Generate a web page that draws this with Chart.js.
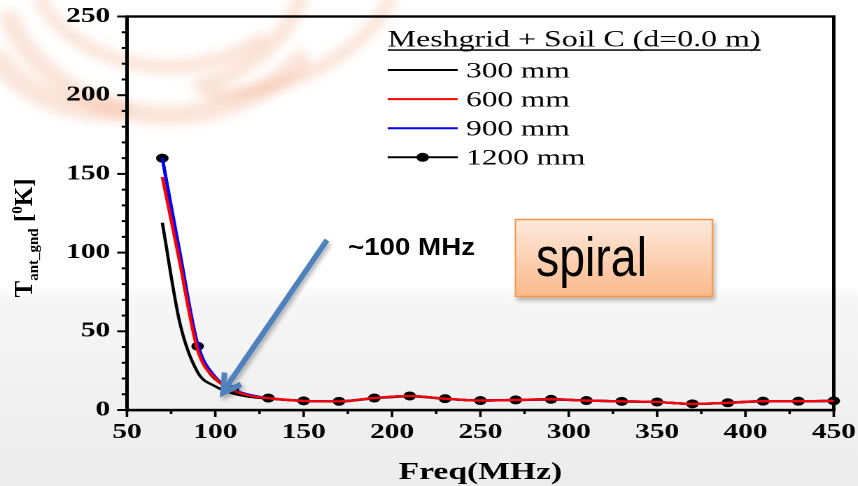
<!DOCTYPE html>
<html><head><meta charset="utf-8">
<script src="https://cdn.jsdelivr.net/npm/chart.js@4.4.0/dist/chart.umd.min.js"></script>
<style>
html,body{margin:0;padding:0;}
body{width:858px;height:486px;overflow:hidden;position:relative;
 background:linear-gradient(to bottom,#ffffff 0px,#ffffff 285px,#f6f6f6 300px,#ececec 486px);}
#bg{position:absolute;left:0;top:0;}
#wrap{position:absolute;left:0;top:0;width:613px;height:486px;transform:scaleX(1.39967);transform-origin:0 0;}
#ov{position:absolute;left:0;top:0;pointer-events:none;}
</style></head>
<body>
<svg id="bg" width="858" height="486">
 <defs><filter id="blur" x="-20%" y="-20%" width="140%" height="140%"><feGaussianBlur stdDeviation="5"/></filter></defs>
 <g filter="url(#blur)" fill="none" stroke="#f2a27a" stroke-opacity="0.28" stroke-linecap="round">
  <path d="M 10 20 A 170 150 0 0 0 300 60" stroke-width="20"/>
  <path d="M 40 0 A 140 110 0 0 0 260 40" stroke-width="14"/>
  <path d="M 200 85 A 150 130 0 0 0 300 0" stroke-width="16"/>
  <path d="M 210 95 A 200 150 0 0 0 390 0" stroke-width="14"/>
  <path d="M 0 60 A 120 90 0 0 0 120 110" stroke-width="22"/>
 </g>
</svg>
<div id="wrap"><canvas id="c"></canvas></div>
<svg id="ov" width="858" height="486">
 <defs>
  <linearGradient id="boxg" x1="0" y1="0" x2="0" y2="1">
   <stop offset="0" stop-color="#fde9dc"/>
   <stop offset="1" stop-color="#fbb98a"/>
  </linearGradient>
  <filter id="sh" x="-20%" y="-20%" width="140%" height="150%">
   <feDropShadow dx="2" dy="3" stdDeviation="2" flood-color="#000" flood-opacity="0.3"/>
  </filter>
 </defs>
 <g filter="url(#sh)" stroke="#4f81bd" stroke-width="5.5" fill="none" stroke-linecap="butt" stroke-linejoin="miter">
  <line x1="327" y1="240" x2="225" y2="389"/>
  <polyline points="241,384.3 223,393 224.5,372.5"/>
 </g>
 <text x="348" y="255" font-family="Liberation Sans, Arial, sans-serif" font-weight="bold" font-size="23" textLength="127" lengthAdjust="spacingAndGlyphs" fill="#000">~100 MHz</text>
 <rect x="515.5" y="219.5" width="197" height="77" fill="url(#boxg)" stroke="#f79646" stroke-width="1.5" filter="url(#sh)"/>
 <text x="536" y="276" font-family="Liberation Sans, Arial, sans-serif" font-size="56" textLength="111" lengthAdjust="spacingAndGlyphs" fill="#000">spiral</text>
 <text transform="translate(32,238) rotate(-90)" text-anchor="middle" font-family="Liberation Serif, serif" font-weight="bold" font-size="25" fill="#000">T<tspan font-size="15" dy="6">ant_gnd</tspan><tspan dy="-6"> [</tspan><tspan font-size="15" dy="-10">0</tspan><tspan dy="10">K]</tspan></text>
</svg>
<script>
// ---- data ----
const lineFreq = [70, 80, 90, 100, 110, 120, 130, 150, 170, 190, 210, 230, 250, 270, 290, 310, 330, 350, 370, 390, 410, 430, 450];
const t300 = [119, 55, 24, 15, 10.5, 8.3, 7.2, 5.8, 5.4, 7.4, 8.7, 7.1, 6, 6.3, 6.7, 6, 5.5, 5, 3.9, 4.5, 5.5, 5.5, 5.8];
const t600 = [148, 93, 38, 20, 12.5, 9, 7.5, 5.8, 5.5, 7.6, 8.9, 7.2, 6, 6.4, 6.8, 6, 5.5, 5.1, 3.9, 4.6, 5.6, 5.6, 5.8];
const t900 = [160, 100, 42, 21, 13, 9.5, 7.6, 5.8, 5.5, 7.6, 8.9, 7.2, 6, 6.4, 6.8, 6, 5.5, 5.1, 3.9, 4.6, 5.6, 5.6, 5.8];
const markFreq = [70, 90, 110, 130, 150, 170, 190, 210, 230, 250, 270, 290, 310, 330, 350, 370, 390, 410, 430, 450];
const t1200 = [160, 40.5, 13, 7.6, 5.8, 5.5, 7.6, 8.9, 7.2, 6, 6.4, 6.8, 6, 5.5, 5.1, 3.9, 4.6, 5.6, 5.6, 5.8];
const seriesLabels = ['300 mm', '600 mm', '900 mm', '1200 mm'];
const xTicks = [50, 100, 150, 200, 250, 300, 350, 400, 450];
const yTicks = [0, 50, 100, 150, 200, 250];
const legendTitle = 'Meshgrid + Soil C (d=0.0 m)';
const xTitle = 'Freq(MHz)';

const pts = (xs, ys) => xs.map((x, i) => ({x: x, y: ys[i]}));
const serif = 'Liberation Serif';

const frameAndTicks = {
  id: 'frameAndTicks',
  beforeDatasetsDraw(chart) {
    const ctx = chart.ctx, a = chart.chartArea;
    ctx.save();
    ctx.strokeStyle = '#000';
    ctx.lineWidth = 2.4;
    ctx.strokeRect(a.left, a.top, a.right - a.left, a.bottom - a.top);
    ctx.restore();
  },
  afterDraw(chart) {
    const ctx = chart.ctx, a = chart.chartArea, xs = chart.scales.x, ys = chart.scales.y;
    ctx.save();
    ctx.strokeStyle = '#000';
    ctx.lineWidth = 2;
    for (let v = ys.min; v <= ys.max; v += 10) {
      const y = ys.getPixelForValue(v);
      const len = (v % 50 === 0) ? 7 : 3.8;
      ctx.beginPath(); ctx.moveTo(a.left - len, y); ctx.lineTo(a.left, y); ctx.stroke();
    }
    ctx.lineWidth = 1.8;
    for (let v = xs.min; v <= xs.max; v += 25) {
      const x = xs.getPixelForValue(v);
      const len = (v % 50 === 0) ? 7 : 4;
      ctx.beginPath(); ctx.moveTo(x, a.bottom); ctx.lineTo(x, a.bottom + len); ctx.stroke();
    }
    // legend
    ctx.fillStyle = '#000';
    ctx.font = '22.8px "' + serif + '"';
    ctx.textBaseline = 'alphabetic';
    ctx.textAlign = 'left';
    const lx = 277, tw = ctx.measureText(legendTitle).width;
    ctx.fillText(legendTitle, lx, 46.7);
    ctx.fillRect(lx, 49.3, tw, 1.5);
    ctx.font = '22.4px "' + serif + '"';
    chart.data.datasets.forEach((ds, i) => {
      const y = 70 + i * 29.1;
      ctx.strokeStyle = ds.borderColor;
      ctx.lineWidth = 2;
      ctx.beginPath(); ctx.moveTo(lx, y); ctx.lineTo(lx + 50, y); ctx.stroke();
      if (ds.pointRadius > 0) {
        ctx.beginPath(); ctx.arc(lx + 25, y, ds.pointRadius, 0, Math.PI * 2);
        ctx.fillStyle = ds.backgroundColor; ctx.fill();
      }
      ctx.fillStyle = '#000';
      ctx.fillText(ds.label, lx + 56, y + 7.3);
    });
    ctx.restore();
  }
};

const noPad = s => { s.paddingTop = 0; s.paddingBottom = 0; s.paddingLeft = 0; s.paddingRight = 0; };

new Chart(document.getElementById('c'), {
  type: 'line',
  data: {
    datasets: [
      {label: seriesLabels[0], data: pts(lineFreq, t300), borderColor: '#000000', backgroundColor: '#000000', borderWidth: 2.3, pointRadius: 0, order: 3},
      {label: seriesLabels[1], data: pts(lineFreq, t600), borderColor: '#ff0000', backgroundColor: '#ff0000', borderWidth: 2.3, pointRadius: 0, order: 1},
      {label: seriesLabels[2], data: pts(lineFreq, t900), borderColor: '#0000ff', backgroundColor: '#0000ff', borderWidth: 2.3, pointRadius: 0, order: 2},
      {label: seriesLabels[3], data: pts(markFreq, t1200), borderColor: '#000000', backgroundColor: '#000000', borderWidth: 2.3, pointRadius: 4.5, pointBorderWidth: 0, order: 4}
    ]
  },
  options: {
    responsive: true,
    maintainAspectRatio: false,
    animation: false,
    devicePixelRatio: 2,
    layout: {padding: {left: 0, top: 16.5, right: 17.3, bottom: 0}},
    datasets: {line: {cubicInterpolationMode: 'monotone', fill: false, clip: 12}},
    plugins: {legend: {display: false}, tooltip: {enabled: false}},
    scales: {
      x: {
        type: 'linear', min: 50, max: 450,
        afterBuildTicks: s => { s.ticks = xTicks.map(v => ({value: v})); },
        afterFit: s => { s.height = 76; noPad(s); },
        grid: {display: false, drawTicks: false},
        border: {display: true, color: '#000', width: 2.4},
        ticks: {color: '#000', padding: 10, maxRotation: 0, font: {family: serif, weight: 'bold', size: 21}},
        title: {display: true, text: xTitle, color: '#000', font: {family: serif, weight: 'bold', size: 24}, padding: {top: 0, bottom: -1}}
      },
      y: {
        type: 'linear', min: 0, max: 250,
        afterBuildTicks: s => { s.ticks = yTicks.map(v => ({value: v})); },
        afterFit: s => { s.width = 90.7; noPad(s); },
        grid: {display: false, drawTicks: false},
        border: {display: true, color: '#000', width: 2.4},
        ticks: {color: '#000', padding: 12, font: {family: serif, weight: 'bold', size: 21}}
      }
    }
  },
  plugins: [frameAndTicks]
});
</script>
</body></html>
